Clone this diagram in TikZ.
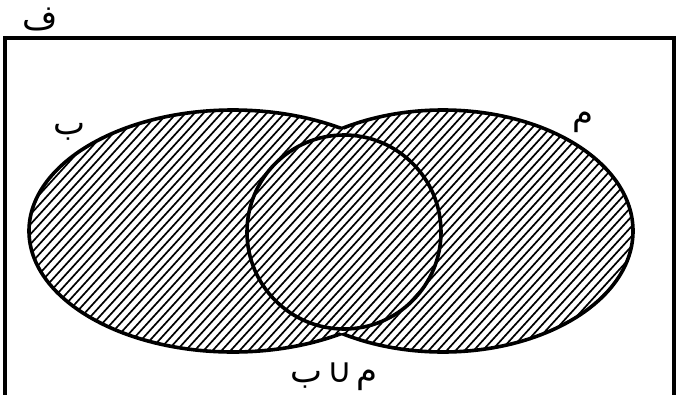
\documentclass[tikz,border=0pt]{standalone}
\usepackage{fontspec}
\newfontfamily\arabicfont[Script=Arabic]{DejaVu Sans}
\TeXXeTstate=1
\begin{document}
\begin{tikzpicture}[x=1pt,y=-1pt,
  outline/.style={line width=3.6pt,black},
  hatch/.style={line width=1.7pt,black},
  lbl/.style={inner sep=0pt,font=\arabicfont\fontsize{34}{38}\selectfont}]
\useasboundingbox (0,0) rectangle (677,394);
% universe frame
\draw[line width=3.5pt] (5,396) -- (5,38) -- (674,38) -- (674,396);
% hatching clipped to the union
\begin{scope}
  \clip (233,231) ellipse [x radius=204, y radius=121]
        (443,231) ellipse [x radius=190, y radius=121];
  \foreach \i in {-300,-291,...,700}{
    \draw[hatch] (\i,370) -- ++(260,-286);
  }
\end{scope}
% outline of left ellipse outside right ellipse
\begin{scope}[even odd rule]
  \clip (0,0) rectangle (677,394) (443,231) ellipse [x radius=190, y radius=121];
  \draw[outline] (233,231) ellipse [x radius=204, y radius=121];
\end{scope}
\begin{scope}[even odd rule]
  \clip (0,0) rectangle (677,394) (233,231) ellipse [x radius=204, y radius=121];
  \draw[outline] (443,231) ellipse [x radius=190, y radius=121];
\end{scope}
% middle circle
\draw[outline] (344,232) circle [radius=97];
% labels
\node[lbl] (U) at (40,19) {\beginR ف\endR};
\node[lbl] (B) at (70,132) {\beginR ب\endR};
\node[lbl] (A) at (583,122) {\beginR م\endR};
\node[lbl] (AB) at (334,377) {\beginR م\hspace{5pt}∪\hspace{5pt}ب\endR};
\end{tikzpicture}
\end{document}
